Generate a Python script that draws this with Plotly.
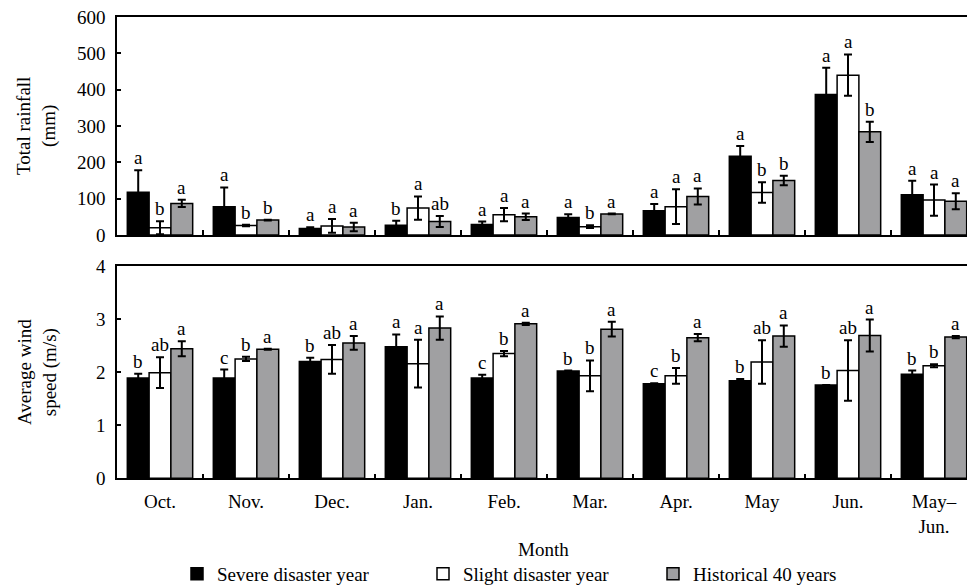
import plotly.graph_objects as go

months = ["Oct.", "Nov.", "Dec.", "Jan.", "Feb.", "Mar.", "Apr.", "May", "Jun.", "May–<br>Jun."]
series_names = ["Severe disaster year", "Slight disaster year", "Historical 40 years"]

# Total rainfall (mm)
rain_severe = [118, 78, 18, 27, 29, 48, 67, 217, 387, 111]
rain_severe_err = [60, 53, 3, 12, 8, 9, 18, 28, 73, 38]
rain_slight = [20, 26, 25, 74, 56, 23, 78, 117, 440, 96]
rain_slight_err = [18, 2, 19, 32, 18, 4, 48, 28, 57, 43]
rain_hist = [87, 41, 22, 37, 50, 58, 106, 150, 284, 93]
rain_hist_err = [10, 1, 12, 15, 9, 1, 22, 13, 28, 22]
rain_sev_lbl = ["a", "a", "a", "b", "a", "a", "a", "a", "a", "a"]
rain_sli_lbl = ["b", "b", "a", "a", "a", "b", "a", "b", "a", "a"]
rain_his_lbl = ["a", "b", "a", "ab", "a", "a", "a", "b", "b", "a"]

# Average wind speed (m/s)
wind_severe = [1.89, 1.89, 2.20, 2.48, 1.89, 2.02, 1.78, 1.84, 1.76, 1.96]
wind_severe_err = [0.08, 0.16, 0.07, 0.23, 0.06, 0.01, 0.01, 0.03, 0.0, 0.07]
wind_slight = [1.99, 2.25, 2.24, 2.16, 2.35, 1.93, 1.93, 2.19, 2.03, 2.12]
wind_slight_err = [0.29, 0.04, 0.27, 0.45, 0.05, 0.29, 0.15, 0.41, 0.57, 0.03]
wind_hist = [2.44, 2.43, 2.55, 2.83, 2.91, 2.81, 2.65, 2.68, 2.69, 2.66]
wind_hist_err = [0.14, 0.01, 0.13, 0.22, 0.02, 0.14, 0.07, 0.20, 0.30, 0.02]
wind_sev_lbl = ["b", "c", "b", "a", "c", "b", "c", "b", "b", "b"]
wind_sli_lbl = ["ab", "b", "ab", "a", "b", "b", "b", "ab", "ab", "b"]
wind_his_lbl = ["a", "a", "a", "a", "a", "a", "a", "a", "a", "a"]

W, H = 967, 587
FONT = "Liberation Serif"
colors = ["#000000", "#ffffff", "#a0a0a2"]
BARGAP = 0.24
bw = (1 - BARGAP) / 3
offsets = [-bw, 0, bw]

fig = go.Figure()
xs = list(range(len(months)))

panels = [
    ("x", "y", [rain_severe, rain_slight, rain_hist],
     [rain_severe_err, rain_slight_err, rain_hist_err],
     [rain_sev_lbl, rain_sli_lbl, rain_his_lbl]),
    ("x2", "y2", [wind_severe, wind_slight, wind_hist],
     [wind_severe_err, wind_slight_err, wind_hist_err],
     [wind_sev_lbl, wind_sli_lbl, wind_his_lbl]),
]
legends = ["legend", "legend2", "legend3"]
for pi, (xa, ya, vals, errs, lbls) in enumerate(panels):
    for si in range(3):
        fig.add_trace(go.Bar(
            x=xs, y=vals[si], name=series_names[si],
            xaxis=xa, yaxis=ya,
            marker=dict(color=colors[si], line=dict(color="black", width=1.5)),
            error_y=dict(type="data", array=errs[si], color="black", thickness=2, width=4),
            showlegend=(pi == 0), legend=legends[si],
        ))
        for i in xs:
            fig.add_annotation(
                x=i + offsets[si], y=vals[si][i] + errs[si][i], xref=xa, yref=ya,
                text=lbls[si][i], showarrow=False, xanchor="center", yanchor="bottom", yshift=0,
                font=dict(family=FONT, size=19, color="black"),
            )

xdom = [117 / W, 1.0]
top_dom = [1 - 235 / H, 1 - 17 / H]
bot_dom = [1 - 478.3 / H, 1 - 266 / H]
xr = [-0.5, (W - 117) / 86.0 - 0.5]

xcommon = dict(
    type="linear", range=xr, domain=xdom, showline=True, linecolor="black", linewidth=1.5,
    mirror=True, showgrid=False, zeroline=False,
)
ycommon = dict(
    showline=True, linecolor="black", linewidth=1.5, mirror=False, showgrid=False,
    zeroline=False, ticks="inside", ticklen=4, tickcolor="black", tickwidth=1.5,
    ticklabelstandoff=6,
    tickfont=dict(family=FONT, size=19, color="black"),
)
bounds = [i + 0.5 for i in range(len(months) - 1)]
fig.update_layout(
    width=W, height=H, margin=dict(l=0, r=0, t=0, b=0, autoexpand=False),
    paper_bgcolor="white", plot_bgcolor="white",
    barmode="group", bargap=BARGAP, bargroupgap=0,
    xaxis=dict(**xcommon, anchor="y", tickmode="array", tickvals=bounds,
               ticks="inside", ticklen=5, tickcolor="black", tickwidth=1.5, showticklabels=False),
    yaxis=dict(**ycommon, domain=top_dom, range=[0, 600], dtick=100, anchor="x"),
    xaxis2=dict(**xcommon, anchor="y2", tickmode="array", tickvals=bounds,
                ticks="inside", ticklen=5, tickcolor="black", tickwidth=1.5, showticklabels=False),
    xaxis3=dict(type="linear", range=xr, domain=xdom, anchor="y2", overlaying="x2",
                showline=False, showgrid=False, zeroline=False,
                ticks="outside", ticklen=6, tickcolor="rgba(0,0,0,0)",
                tickmode="array", tickvals=xs, ticktext=months,
                tickfont=dict(family=FONT, size=19, color="black")),
    yaxis2=dict(**ycommon, domain=bot_dom, range=[0, 4], dtick=1, anchor="x2"),
)
# invisible carrier trace so the month-label axis is drawn
fig.add_trace(go.Scatter(x=[xs[0]], y=[None], xaxis="x3", yaxis="y2", showlegend=False,
                         hoverinfo="skip"))

leg_common = dict(orientation="h", yanchor="middle", xanchor="left", bgcolor="rgba(0,0,0,0)",
                  font=dict(family=FONT, size=19, color="black"), itemwidth=30)
fig.update_layout(
    legend=dict(**leg_common, x=177 / W, y=1 - 574 / H),
    legend2=dict(**leg_common, x=423 / W, y=1 - 574 / H),
    legend3=dict(**leg_common, x=653 / W, y=1 - 574 / H),
)

ann_font = dict(family=FONT, size=19, color="black")
fig.add_annotation(x=37 / W, y=1 - 126 / H, xref="paper", yref="paper", text="Total rainfall<br>(mm)",
                   textangle=-90, showarrow=False, xanchor="center", yanchor="middle", font=ann_font)
fig.add_annotation(x=37 / W, y=1 - 372 / H, xref="paper", yref="paper", text="Average wind<br>speed (m/s)",
                   textangle=-90, showarrow=False, xanchor="center", yanchor="middle", font=ann_font)
fig.add_annotation(x=543 / W, y=1 - 549 / H, xref="paper", yref="paper", text="Month",
                   showarrow=False, xanchor="center", yanchor="middle", font=ann_font)

fig.write_html("out.html", config={"displayModeBar": False},
               post_script="document.body.style.margin='0px';")
